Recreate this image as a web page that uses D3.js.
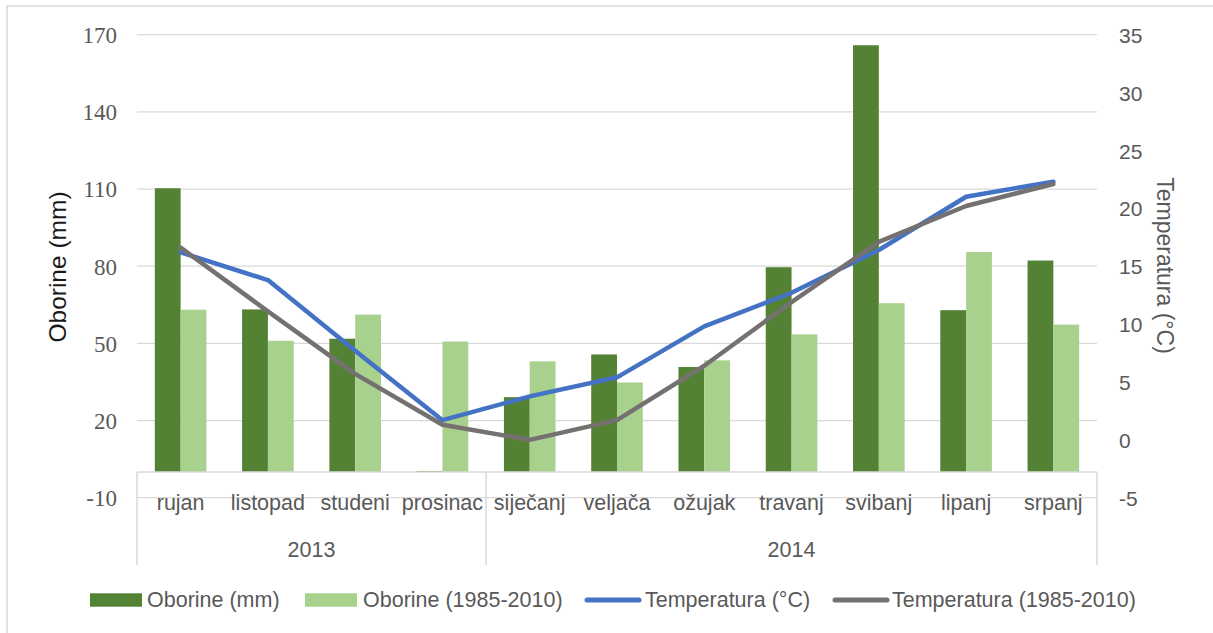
<!DOCTYPE html>
<html>
<head>
<meta charset="utf-8">
<script src="https://cdn.jsdelivr.net/npm/d3@7"></script>
<style>
  html, body { margin: 0; padding: 0; background: #fff; }
  svg { display: block; }
</style>
</head>
<body>
<svg id="chart" width="1213" height="633"></svg>
<script>
// ---- data ----
const months = ["rujan", "listopad", "studeni", "prosinac", "siječanj", "veljača", "ožujak", "travanj", "svibanj", "lipanj", "srpanj"];
const years = ["2013", "2013", "2013", "2013", "2014", "2014", "2014", "2014", "2014", "2014", "2014"];
const oborine = [110.3, 63.2, 51.8, 0.4, 29.1, 45.7, 40.8, 79.6, 165.9, 62.9, 82.2];
const oborineAvg = [63.1, 51.0, 61.2, 50.7, 43.0, 34.8, 43.4, 53.5, 65.6, 85.5, 57.3];
const temperatura = [16.2, 13.8, 7.7, 1.7, 3.75, 5.4, 9.8, 12.7, 16.4, 21.0, 22.3];
const temperaturaAvg = [16.6, 11.1, 5.7, 1.3, 0.0, 1.7, 6.4, 11.9, 17.1, 20.2, 22.1];
const leftTicks = [-10, 20, 50, 80, 110, 140, 170];
const rightTicks = [-5, 0, 5, 10, 15, 20, 25, 30, 35];
const seriesNames = ["Oborine (mm)", "Oborine (1985-2010)", "Temperatura (°C)", "Temperatura (1985-2010)"];

// ---- styles ----
const C = { dark: "#548235", light: "#A9D18E", blue: "#4472C4", gray: "#767171", grid: "#D9D9D9", text: "#595959" };
const SANS = "'Liberation Sans', Arial, sans-serif";
const SERIF = "'Liberation Serif', 'Times New Roman', serif";

const svg = d3.select("#chart");
const plotL = 137, plotR = 1097, plotT = 34.7, plotB = 497.7;

// outer border (left & top visible)
svg.append("rect").attr("x", 7).attr("y", 6).attr("width", 1300).attr("height", 700)
  .attr("fill", "none").attr("stroke", C.grid).attr("stroke-width", 1.5);

const x0 = d3.scaleBand().domain(months).range([plotL, plotR]).paddingInner(0.4087).paddingOuter(0.2043);
const x1 = d3.scaleBand().domain(["o", "a"]).range([0, x0.bandwidth()]);
const yL = d3.scaleLinear().domain([-10, 170]).range([plotB, plotT]);
const yR = d3.scaleLinear().domain([-5, 35]).range([plotB, plotT]);
const cx = m => x0(m) + x0.bandwidth() / 2;
const fmt = d => String(d); // hyphen-minus like the reference

// gridlines
svg.append("g").selectAll("line").data(leftTicks).join("line")
  .attr("x1", plotL).attr("x2", plotR)
  .attr("y1", d => yL(d)).attr("y2", d => yL(d))
  .attr("stroke", C.grid).attr("stroke-width", 1.3);

// left axis labels
const gL = svg.append("g").attr("transform", "translate(117,0)")
  .call(d3.axisLeft(yL).tickValues(leftTicks).tickSize(0).tickPadding(0).tickFormat(fmt));
gL.select(".domain").remove();
gL.selectAll("text").attr("font-family", SERIF).attr("font-size", 23).attr("fill", C.text).attr("dy", "0.34em");

// right axis labels
const gR = svg.append("g").attr("transform", "translate(1119,0)")
  .call(d3.axisRight(yR).tickValues(rightTicks).tickSize(0).tickPadding(0).tickFormat(fmt));
gR.select(".domain").remove();
gR.selectAll("text").attr("font-family", SANS).attr("font-size", 21).attr("fill", C.text).attr("dy", "0.36em");

// bars
const barData = months.map((m, i) => [{ m, k: "o", v: oborine[i], c: C.dark }, { m, k: "a", v: oborineAvg[i], c: C.light }]).flat();
svg.append("g").selectAll("rect").data(barData).join("rect")
  .attr("x", d => x0(d.m) + x1(d.k))
  .attr("width", x1.bandwidth())
  .attr("y", d => yL(Math.max(0, d.v)))
  .attr("height", d => Math.abs(yL(d.v) - yL(0)))
  .attr("fill", d => d.c);

// category axis line
svg.append("line").attr("x1", plotL).attr("x2", plotR).attr("y1", yL(0)).attr("y2", yL(0))
  .attr("stroke", C.grid).attr("stroke-width", 1.5);

// group separators
const groupNames = Array.from(new Set(years));
const groups = groupNames.map(g => {
  const ms = months.filter((m, i) => years[i] === g);
  return { g, first: ms[0], last: ms[ms.length - 1] };
});
const step = x0.step();
const sepXs = [plotL].concat(groups.map(d => x0(d.last) + x0.bandwidth() / 2 + step / 2));
sepXs[sepXs.length - 1] = plotR;
svg.append("g").selectAll("line").data(sepXs).join("line")
  .attr("x1", d => d).attr("x2", d => d).attr("y1", yL(0)).attr("y2", 565)
  .attr("stroke", C.grid).attr("stroke-width", 1.5);

// month labels
svg.append("g").selectAll("text").data(months).join("text")
  .attr("x", d => cx(d)).attr("y", 510).attr("text-anchor", "middle")
  .attr("font-family", SANS).attr("font-size", 21.5).attr("fill", C.text).text(d => d);

// year labels
svg.append("g").selectAll("text").data(groups).join("text")
  .attr("x", (d, i) => (sepXs[i] + sepXs[i + 1]) / 2).attr("y", 557).attr("text-anchor", "middle")
  .attr("font-family", SANS).attr("font-size", 21.5).attr("fill", C.text).text(d => d.g);

// lines (blue first, gray on top)
const line = ys => d3.line().x((d, i) => cx(months[i])).y(d => yR(d))(ys);
[[temperatura, C.blue], [temperaturaAvg, C.gray]].forEach(([ys, col]) => {
  svg.append("path").attr("d", line(ys)).attr("fill", "none").attr("stroke", col)
    .attr("stroke-width", 4.5).attr("stroke-linecap", "round").attr("stroke-linejoin", "round");
});

// axis titles
svg.append("text").attr("transform", "translate(66,267) rotate(-90)").attr("text-anchor", "middle")
  .attr("font-family", SANS).attr("font-size", 24.5).attr("fill", "#1a1a1a").text("Oborine (mm)");
svg.append("text").attr("transform", "translate(1157,265.5) rotate(90)").attr("text-anchor", "middle")
  .attr("font-family", SANS).attr("font-size", 23).attr("fill", C.text).text("Temperatura (°C)");

// legend
const legend = [
  { t: seriesNames[0], type: "rect", c: C.dark, x: 90, tx: 147 },
  { t: seriesNames[1], type: "rect", c: C.light, x: 305, tx: 363 },
  { t: seriesNames[2], type: "line", c: C.blue, x: 587, tx: 645 },
  { t: seriesNames[3], type: "line", c: C.gray, x: 835, tx: 892 }
];
const lg = svg.append("g");
legend.forEach(d => {
  if (d.type === "rect") {
    lg.append("rect").attr("x", d.x).attr("y", 593.3).attr("width", 52).attr("height", 13.4).attr("fill", d.c);
  } else {
    lg.append("line").attr("x1", d.x).attr("x2", d.x + 52).attr("y1", 600).attr("y2", 600)
      .attr("stroke", d.c).attr("stroke-width", 5).attr("stroke-linecap", "round");
  }
  lg.append("text").attr("x", d.tx).attr("y", 607).attr("font-family", SANS).attr("font-size", 21.5)
    .attr("fill", C.text).text(d.t);
});
</script>
</body>
</html>
